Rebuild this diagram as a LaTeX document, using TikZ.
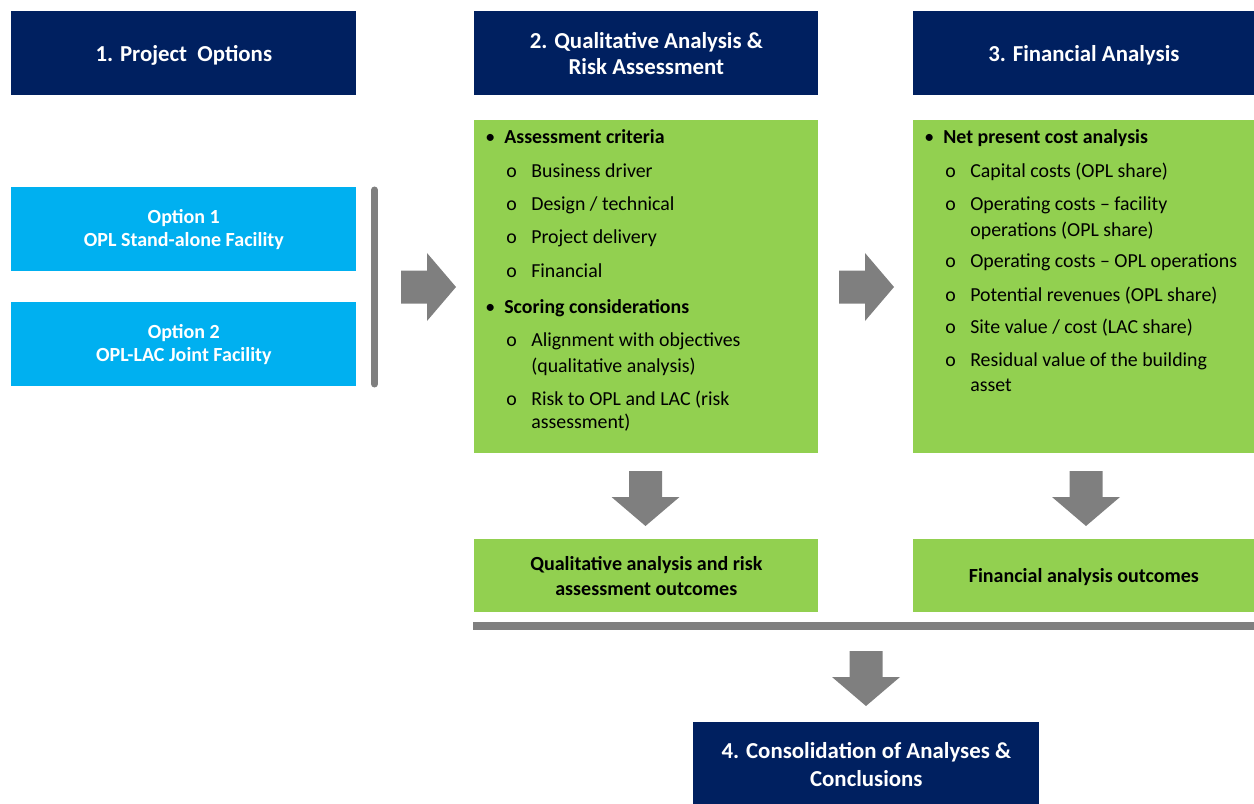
\documentclass[tikz,border=0pt]{standalone}
\usepackage{fontspec}
\setmainfont{Carlito}

\definecolor{navy}{RGB}{0,32,96}
\definecolor{optblue}{RGB}{0,176,240}
\definecolor{leaf}{RGB}{146,208,80}
\definecolor{arrowgrey}{RGB}{127,127,127}

% list markers
\newcommand{\bul}[1]{\makebox[10.8pt][l]{\textbullet}\textbf{#1}}
\newcommand{\circitem}[1]{\makebox[14.2pt][l]{o}#1}

\tikzset{
	box/.style={anchor=north west, inner sep=0pt, align=center},
	headbox/.style={box, fill=navy, text=white, font=\bfseries\fontsize{13}{14.5}\selectfont, minimum height=1.68cm},
	optbox/.style={box, fill=optblue, text=white, font=\bfseries\fontsize{11.4}{13}\selectfont, minimum width=6.9cm, minimum height=1.68cm},
	panelbox/.style={box, fill=leaf, minimum height=6.66cm},
	outbox/.style={box, fill=leaf, font=\bfseries\fontsize{11.4}{14.2}\selectfont, minimum height=1.46cm},
	listtext/.style={anchor=base west, inner sep=0pt, font=\fontsize{11.3}{13.6}\selectfont},
	bar/.style={draw=arrowgrey},
	pics/rightarrow/.style={code={
		\fill[arrowgrey] (0,-16.5) -- (26,-16.5) -- (26,-34) -- (55,0) -- (26,34) -- (26,16.5) -- (0,16.5) -- cycle;}},
	pics/downarrow/.style={code={
		\fill[arrowgrey] (-16.5,0) -- (-16.5,26) -- (-34,26) -- (0,55) -- (34,26) -- (16.5,26) -- (16.5,0) -- cycle;}},
}

\begin{document}
\begin{tikzpicture}[x=0.02cm, y=-0.02cm]
	\useasboundingbox (0,0) rectangle (1254,804);

	% column headers
	\node[headbox, minimum width=6.9cm, text depth=0pt] at (11,11) (head1) {1. Project\ \ Options};
	\node[headbox, minimum width=6.88cm] at (474,11) (head2) {2. Qualitative Analysis \&\\Risk Assessment};
	\node[headbox, minimum width=6.82cm, text depth=0pt] at (913,11) (head3) {3. Financial Analysis};

	% options
	\node[optbox] at (11,187) (opt1) {Option 1\\OPL Stand-alone Facility};
	\node[optbox] at (11,302) (opt2) {Option 2\\OPL-LAC Joint Facility};
	\draw[bar, line width=0.14cm, line cap=round] (374.5,190) -- (374.5,384);

	% qualitative panel
	\node[panelbox, minimum width=6.88cm] at (474,120) (qual) {};
	\node[listtext] at (485,144) (q0) {\bul{Assessment criteria}};
	\node[listtext] at (506,178) (q1) {\circitem{Business driver}};
	\node[listtext] at (506,211) (q2) {\circitem{Design / technical}};
	\node[listtext] at (506,244) (q3) {\circitem{Project delivery}};
	\node[listtext] at (506,277) (q4) {\circitem{Financial}};
	\node[listtext] at (485,314) (s0) {\bul{Scoring considerations}};
	\node[listtext] at (506,346) (s1) {\circitem{Alignment with objectives}};
	\node[listtext] at (531,372) (s1b) {(qualitative analysis)};
	\node[listtext] at (506,405) (s2) {\circitem{Risk to OPL and LAC (risk}};
	\node[listtext] at (531,428) (s2b) {assessment)};

	% financial panel
	\node[panelbox, minimum width=6.82cm] at (913,120) (fin) {};
	\node[listtext] at (924,144) (f0) {\bul{Net present cost analysis}};
	\node[listtext] at (945,178) (f1) {\circitem{Capital costs (OPL share)}};
	\node[listtext] at (945,211) (f2) {\circitem{Operating costs -- facility}};
	\node[listtext] at (970,236) (f2b) {operations (OPL share)};
	\node[listtext] at (945,268) (f3) {\circitem{Operating costs -- OPL operations}};
	\node[listtext] at (945,301) (f4) {\circitem{Potential revenues (OPL share)}};
	\node[listtext] at (945,333) (f5) {\circitem{Site value / cost (LAC share)}};
	\node[listtext] at (945,366) (f6) {\circitem{Residual value of the building}};
	\node[listtext] at (970,391) (f6b) {asset};

	% outcomes
	\node[outbox, minimum width=6.88cm] at (474,539) (qualout) {Qualitative analysis and risk\\assessment outcomes};
	\node[outbox, minimum width=6.82cm, text depth=0pt] at (913,539) (finout) {Financial analysis outcomes};
	\draw[bar, line width=0.16cm] (473,626) -- (1254,626);

	% conclusions
	\node[headbox, minimum width=6.92cm, font=\bfseries\fontsize{13}{15.6}\selectfont] at (693,722) (concl) {4. Consolidation of Analyses \&\\Conclusions};

	% block arrows
	\pic at (401,287) {rightarrow};
	\pic at (839,287) {rightarrow};
	\pic at (645.5,471) {downarrow};
	\pic at (1086,471) {downarrow};
	\pic at (866,651) {downarrow};
\end{tikzpicture}
\end{document}
